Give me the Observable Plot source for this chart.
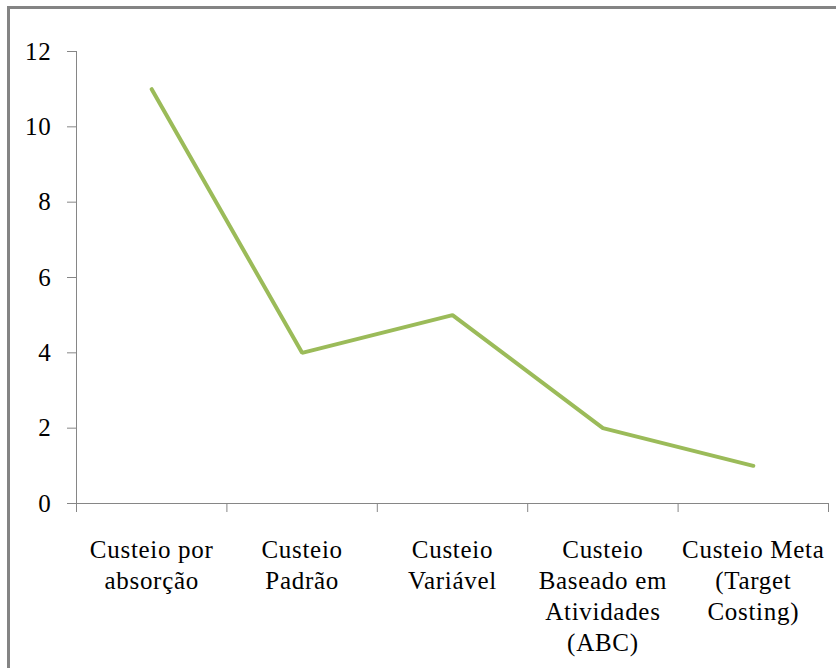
<!DOCTYPE html>
<html>
<head>
<meta charset="utf-8">
<script src="https://cdn.jsdelivr.net/npm/d3@7"></script>
<script src="https://cdn.jsdelivr.net/npm/@observablehq/plot@0.6"></script>
<style>
  html, body { margin: 0; padding: 0; background: #fff; }
  #wrap { position: relative; width: 836px; height: 668px; overflow: hidden; }
  #frame {
    position: absolute; left: 7px; top: 6px; right: -10px; bottom: -10px;
    border-left: 3px solid #848484; border-top: 3px solid #848484;
    pointer-events: none;
  }
  #chart svg { display: block; }
</style>
</head>
<body>
<div id="wrap">
  <div id="chart"></div>
  <div id="frame"></div>
</div>
<script>
// Costing methods (x categories) and their counts
const categories = [
  "Custeio por\nabsorção",
  "Custeio\nPadrão",
  "Custeio\nVariável",
  "Custeio\nBaseado em\nAtividades\n(ABC)",
  "Custeio Meta\n(Target\nCosting)"
];
const values = [11, 4, 5, 2, 1];
const yTicks = [0, 2, 4, 6, 8, 10, 12];

// Each category occupies one unit slot; the point sits at the slot centre
const data = categories.map((label, i) => ({ pos: i + 0.5, value: values[i], label }));
const slotEdges = d3.range(categories.length + 1);

const axisGray = "#868686";
const serif = "Liberation Serif";

const chart = Plot.plot({
  width: 836,
  height: 668,
  marginLeft: 76,
  marginRight: 8,
  marginTop: 51,
  marginBottom: 165,
  style: { fontFamily: serif, fontSize: "25px", color: "#000", background: "transparent" },
  x: { domain: [0, categories.length] },
  y: { domain: [0, 12] },
  marks: [
    Plot.ruleX([0], { y1: 0, y2: 12, stroke: axisGray, strokeWidth: 1 }),
    Plot.ruleY([0], { stroke: axisGray, strokeWidth: 1 }),
    Plot.axisY({ ticks: yTicks, tickSize: 9, tickPadding: 16, stroke: axisGray, fill: "#000", fontSize: 25, fontFamily: serif, label: null }),
    Plot.axisX({ ticks: slotEdges, tickSize: 9, tickFormat: () => "", stroke: axisGray, label: null }),
    Plot.axisX({
      ticks: data.map(d => d.pos),
      tickSize: 0,
      tickPadding: 32,
      tickFormat: p => categories[p - 0.5],
      fill: "#000",
      fontSize: 25,
      fontFamily: serif,
      lineHeight: 1.25,
      label: null
    }),
    Plot.line(data, { x: "pos", y: "value", stroke: "#9BBB59", strokeWidth: 4, strokeLinejoin: "miter" })
  ]
});

// Serif face and slightly open tracking for all chart text
chart.querySelectorAll("text").forEach(t => {
  t.setAttribute("font-family", serif);
  t.style.fontFamily = serif;
  t.style.letterSpacing = "0.7px";
});

document.getElementById("chart").append(chart);
</script>
</body>
</html>
